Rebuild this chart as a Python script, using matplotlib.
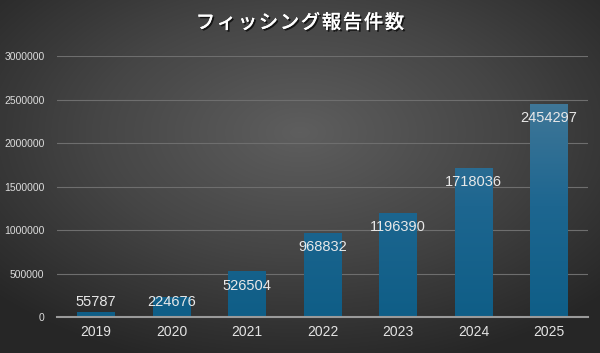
import numpy as np
import matplotlib.pyplot as plt
from matplotlib.colors import LinearSegmentedColormap
import matplotlib.patheffects as pe

years = ["2019", "2020", "2021", "2022", "2023", "2024", "2025"]
counts = [55787, 224676, 526504, 968832, 1196390, 1718036, 2454297]
yticks = [0, 500000, 1000000, 1500000, 2000000, 2500000, 3000000]
title = "フィッシング報告件数"

plt.rcParams['font.family'] = ['Liberation Sans', 'DejaVu Sans']

fig = plt.figure(figsize=(6, 3.53), dpi=100)

# radial gradient background
bg = fig.add_axes([0, 0, 1, 1])
xx, yy = np.meshgrid(np.linspace(-1, 1, 600), np.linspace(-1, 1, 353))
r = np.sqrt((xx * 0.9) ** 2 + ((yy + 0.25) * 0.9) ** 2)
bg_cmap = LinearSegmentedColormap.from_list("bg", ["#5e5e5e", "#454545", "#262626"])
bg.imshow(r, cmap=bg_cmap, aspect="auto", extent=[0, 1, 0, 1], vmin=0, vmax=1.25)
bg.axis("off")

ax = fig.add_axes([0.095, 0.102, 0.885, 0.739])
ax.set_facecolor("none")

x = np.arange(len(years))
bars = ax.bar(x, counts, width=0.5, color="#1a6389", zorder=3)

bar_cmap = LinearSegmentedColormap.from_list("bar", ["#0f5e87", "#1d6690", "#427898"])
grad = np.linspace(0, 1, 256).reshape(-1, 1)
for b in bars:
    im = ax.imshow(grad, cmap=bar_cmap, origin="lower", aspect="auto",
                   extent=[b.get_x(), b.get_x() + b.get_width(), 0, 2550000],
                   zorder=3.5)
    im.set_clip_path(b)

for xi, v in zip(x, counts):
    ax.text(xi, max(v - 165000, 172000), str(v), ha="center", va="center",
            color="#e8e8e8", fontsize=10.5, zorder=5)

ax.set_xlim(-0.517, len(years) - 0.483)
ax.set_ylim(0, 3000000)
ax.set_yticks(yticks)
ax.set_yticklabels([str(t) for t in yticks], color="#dcdcdc", fontsize=7.5)
ax.set_xticks(x)
ax.set_xticklabels(years, color="#e4e4e4", fontsize=10)
ax.tick_params(axis="y", length=0, pad=9)
ax.tick_params(axis="x", length=0, pad=6)
ax.grid(axis="y", color="#6e6e6e", linewidth=0.8, zorder=1)
for s in ["top", "right", "left"]:
    ax.spines[s].set_visible(False)
ax.spines["bottom"].set_color("#9a9a9a")
ax.spines["bottom"].set_linewidth(1.5)
ax.spines["bottom"].set_zorder(4)

# letter-spaced title
shadow = [pe.withSimplePatchShadow(offset=(1.2, -1.2), shadow_rgbFace="black", alpha=0.7), pe.Normal()]
n = len(title)
for i, ch in enumerate(title):
    fig.text(0.5 + (i - (n - 1) / 2) * 21 / 600, 0.935, ch, ha="center", va="center",
             fontsize=14, fontweight="medium", color="white",
             family=["Noto Sans CJK JP", "DejaVu Sans"], path_effects=shadow)

fig.savefig("out.png", dpi=100)
